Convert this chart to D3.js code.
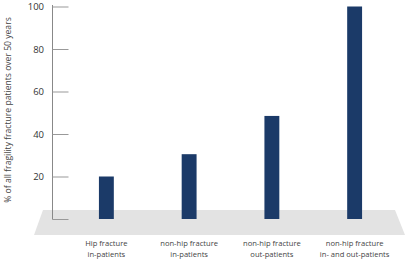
<!DOCTYPE html>
<html><head><meta charset="utf-8">
<script src="https://cdn.jsdelivr.net/npm/d3@7"></script>
<style>body{margin:0;background:#fff;}svg{display:block;font-family:"Open Sans",sans-serif;}</style>
</head><body>
<svg id="c" width="406" height="260"></svg>
<script>
const categories = [["Hip fracture","in-patients"],["non-hip fracture","in-patients"],["non-hip fracture","out-patients"],["non-hip fracture","in- and out-patients"]];
const values = [20, 30.5, 48.5, 100];
const tickValues = [0, 20, 40, 60, 80, 100];
const yTitle = "% of all fragility fracture patients over 50 years";

const svg = d3.select("#c");
const y = d3.scaleLinear().domain([0,100]).range([219,6.5]);
const x = d3.scaleBand().domain(d3.range(categories.length)).range([65,396]).paddingInner(0.82).paddingOuter(0.41);

// floor
svg.append("path").attr("d","M43,210 L395,210 L405,235 L34,235 Z").attr("fill","#e3e3e3");

// axis
const ax = svg.append("g").attr("transform","translate(52.5,0)")
  .call(d3.axisRight(y).tickValues(tickValues).tickSize(16).tickFormat(""));
ax.select(".domain").attr("stroke","#888").attr("d","M0,5V219.5");
ax.selectAll(".tick line").attr("stroke","#999");
svg.append("g").selectAll("text").data(tickValues.filter(d=>d>0)).join("text")
  .attr("x",44).attr("y",d=>y(d)+3.5).attr("text-anchor","end")
  .attr("font-size",9.5).attr("fill","#333").text(d=>d);

// bars
svg.append("g").selectAll("rect").data(values).join("rect")
  .attr("x",(d,i)=>x(i)).attr("width",x.bandwidth())
  .attr("y",d=>y(d)).attr("height",d=>y(0)-y(d)).attr("fill","#1b3a68");

// category labels
const lab = svg.append("g").selectAll("text").data(categories).join("text")
  .attr("text-anchor","middle").attr("font-size",7.6).attr("fill","#444");
lab.each(function(d,i){
  const t=d3.select(this), cx=x(i)+x.bandwidth()/2;
  d.forEach((s,j)=>t.append("tspan").attr("x",cx).attr("y",246+j*11).text(s));
});

// y title
svg.append("text").attr("transform","translate(11,110) rotate(-90)")
  .attr("text-anchor","middle").attr("font-size",8.6).attr("fill","#444").text(yTitle);
</script>
</body></html>
